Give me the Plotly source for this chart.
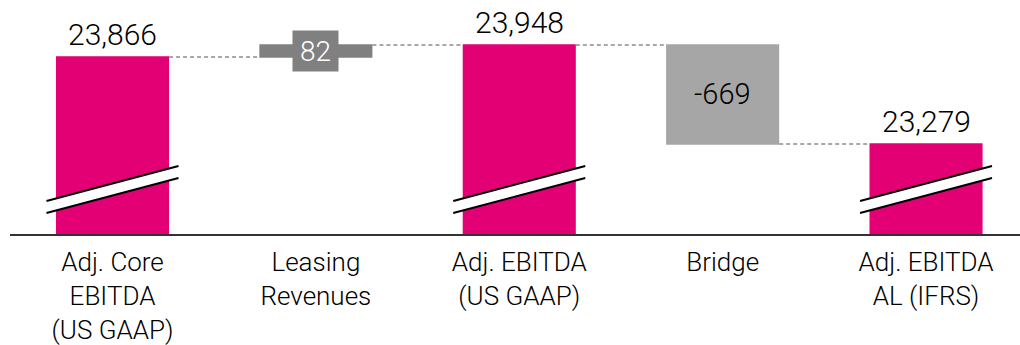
import plotly.graph_objects as go

categories = ["Adj. Core<br>EBITDA<br>(US GAAP)", "Leasing<br>Revenues", "Adj. EBITDA<br>(US GAAP)", "Bridge", "Adj. EBITDA<br>AL (IFRS)"]
measures = ["absolute", "relative", "total", "relative", "total"]
values = [23866, 82, 0, -669, 0]
labels = ["23,866", "82", "23,948", "-669", "23,279"]
broken_bars = [0, 2, 4]

MAGENTA = "#E20074"
DARK = "#808080"
LIGHT = "#A6A6A6"
FONT = "Roboto"
WEIGHT = 300

x = list(range(len(categories)))
BW = 0.556

fig = go.Figure(go.Waterfall(
    x=x, y=values, measure=measures,
    width=[BW] * len(x),
    increasing=dict(marker=dict(color=DARK, line=dict(width=0))),
    decreasing=dict(marker=dict(color=LIGHT, line=dict(width=0))),
    totals=dict(marker=dict(color=MAGENTA, line=dict(width=0))),
    connector=dict(mode="between", line=dict(color="#8C8C8C", width=1.5, dash="4px,3px")),
    textinfo="none", hoverinfo="skip", showlegend=False,
))

# cumulative levels
cum = []
run = 0
for m, v in zip(measures, values):
    if m == "absolute":
        run = v
    elif m == "relative":
        run += v
    cum.append(run)

annotations = []
for i, m in enumerate(measures):
    if m in ("absolute", "total"):
        annotations.append(dict(x=i, y=cum[i], text=labels[i], showarrow=False,
                                yanchor="bottom", yshift=3,
                                font=dict(family=FONT, size=30, weight=WEIGHT, color="#000000")))
    elif values[i] > 0:
        annotations.append(dict(x=i, y=cum[i] - values[i] / 2, text=labels[i], showarrow=False,
                                bgcolor=DARK, width=43, height=38,
                                font=dict(family=FONT, size=28, weight=WEIGHT, color="#FFFFFF")))
    else:
        annotations.append(dict(x=i, y=cum[i] - values[i] / 2, text=labels[i], showarrow=False,
                                font=dict(family=FONT, size=29, weight=WEIGHT, color="#000000")))

PH = 234.0
def py(p):
    return 1 - p / PH

shapes = []
half = 66 / 203.4
for i in broken_bars:
    x0, x1 = i - half, i + half
    path = (f"M {x0},{py(201)} L {x1},{py(166)} L {x1},{py(178)} L {x0},{py(213)} Z")
    shapes.append(dict(type="path", path=path, xref="x", yref="paper",
                       fillcolor="#FFFFFF", line=dict(width=0)))
    shapes.append(dict(type="line", xref="x", yref="paper", x0=x0, x1=x1,
                       y0=py(201), y1=py(166), line=dict(color="#000000", width=2)))
    shapes.append(dict(type="line", xref="x", yref="paper", x0=x0, x1=x1,
                       y0=py(213), y1=py(178), line=dict(color="#000000", width=2)))

fig.update_layout(
    width=1020, height=345,
    margin=dict(l=10, r=0, t=0, b=111),
    paper_bgcolor="white", plot_bgcolor="white",
    annotations=annotations, shapes=shapes,
    xaxis=dict(range=[-0.504, 4.462], tickmode="array", tickvals=x, ticktext=categories,
               showline=True, linecolor="#333333", linewidth=2, showgrid=False, zeroline=False,
               ticks="", ticklabelstandoff=4,
               tickfont=dict(family=FONT, size=26, weight=WEIGHT, color="#000000")),
    yaxis=dict(range=[22670, 24252], visible=False, showgrid=False, zeroline=False),
)

fig.write_html("out.html", config={"displayModeBar": False, "staticPlot": True},
               post_script="document.body.style.margin='0';document.body.style.padding='0';")
